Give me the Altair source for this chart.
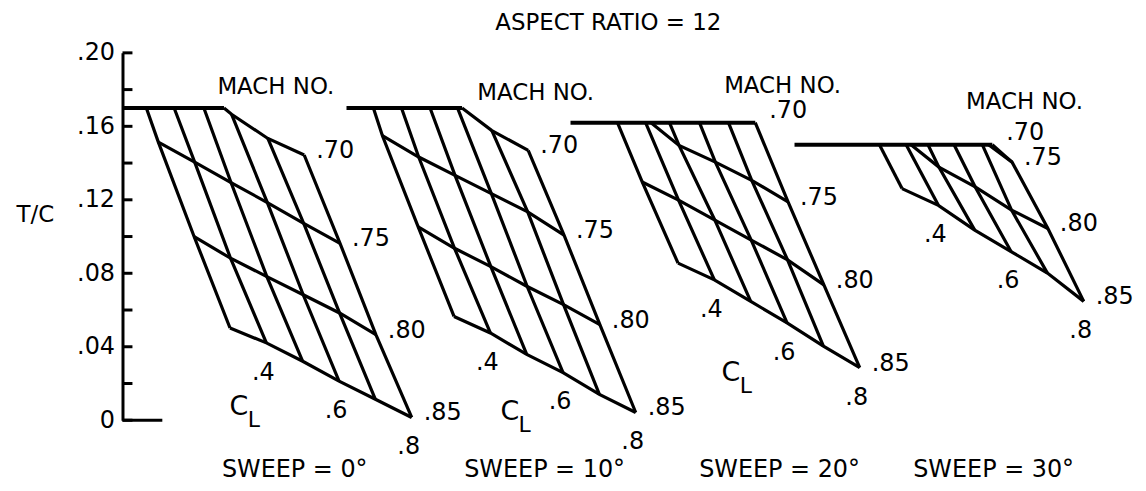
import altair as alt
import pandas as pd

# ---------------- data ----------------
MACH = [0.70, 0.75, 0.80, 0.85]
CL = [0.3, 0.4, 0.5, 0.6, 0.7, 0.8]
SWEEP = [0, 10, 20, 30]
TC_MAX = [0.170, 0.170, 0.162, 0.150]   # t/c cap drawn across the top of each carpet

# t/c at each (Mach row, CL column); parts above the cap are hidden by it
TC_SWEEP_0 = [
    [0.207, 0.192, 0.183, 0.1666, 0.1534, 0.1444],
    [0.1514, 0.1405, 0.1294, 0.1185, 0.1072, 0.0963],
    [0.0999, 0.0882, 0.0782, 0.0683, 0.0584, 0.0466],
    [0.0502, 0.0421, 0.0321, 0.0213, 0.0114, 0.0015],
]
TC_SWEEP_10 = [
    [0.215, 0.199, 0.186, 0.1727, 0.1577, 0.1469],
    [0.155, 0.1433, 0.1333, 0.1234, 0.1134, 0.1008],
    [0.1053, 0.0936, 0.0836, 0.0728, 0.0629, 0.052],
    [0.0565, 0.0475, 0.0358, 0.0259, 0.0141, 0.0042],
]
TC_SWEEP_20 = [
    [0.215, 0.205, 0.196, 0.189, 0.179, 0.166],
    [0.1765, 0.1657, 0.1496, 0.1405, 0.1306, 0.1189],
    [0.1297, 0.1198, 0.1089, 0.0981, 0.0873, 0.0737],
    [0.0855, 0.0764, 0.0647, 0.0530, 0.0403, 0.0286],
]
TC_SWEEP_30 = [
    [0.215, 0.205, 0.195, 0.183, 0.170, 0.155],
    [0.200, 0.190, 0.178, 0.166, 0.158, 0.1405],
    [0.164, 0.1537, 0.1378, 0.127, 0.1144, 0.1044],
    [0.1261, 0.117, 0.1035, 0.0918, 0.0801, 0.0647],
]
TC = [TC_SWEEP_0, TC_SWEEP_10, TC_SWEEP_20, TC_SWEEP_30]

Y_TICKS = [0.00, 0.02, 0.04, 0.06, 0.08, 0.10, 0.12, 0.14, 0.16, 0.18, 0.20]
Y_LABELS = [0.00, 0.04, 0.08, 0.12, 0.16, 0.20]
CL_LABELED = [0.4, 0.6, 0.8]
TITLE = "ASPECT RATIO = 12"

# ---------------- carpet construction (abscissa is arbitrary) ----------------
CARPET_SHIFT = [0, 225, 450, 675]
STEP_CL = 36.5
STEP_MACH = 36.0


def cx(k, i, j):
    return CARPET_SHIFT[k] + STEP_CL * i + STEP_MACH * j


def clip(points, cap):
    pieces, cur, prev = [], [], None
    eps = 1e-9
    for x, y in points:
        inside = y <= cap + eps
        if prev is None:
            if inside:
                cur = [(x, y)]
        else:
            px, py, pin = prev
            if pin and inside:
                cur.append((x, y))
            elif pin and not inside:
                t = (cap - py) / (y - py)
                cur.append((px + t * (x - px), cap))
                if len(cur) > 1:
                    pieces.append(cur)
                cur = []
            elif (not pin) and inside:
                t = (cap - py) / (y - py)
                cur = [(px + t * (x - px), cap), (x, y)]
        prev = (x, y, inside)
    if len(cur) > 1:
        pieces.append(cur)
    return pieces


grid_rows, cap_rows, mach_lab, mach_lab_cap, cl_lab = [], [], [], [], []
gid = 0
for k in range(len(SWEEP)):
    cap = TC_MAX[k]
    polylines = []
    for j in range(len(MACH)):
        polylines.append([(cx(k, i, j), TC[k][j][i]) for i in range(len(CL))])
    for i in range(len(CL)):
        polylines.append([(cx(k, i, j), TC[k][j][i]) for j in range(len(MACH))])
    cap_x = []
    for pl in polylines:
        for piece in clip(pl, cap):
            for o, (x, y) in enumerate(piece):
                grid_rows.append({"x": x, "tc": y, "g": f"g{gid}", "o": o})
                if abs(y - cap) < 1e-9:
                    cap_x.append(x)
            gid += 1
    cap_end = max(cap_x)
    cap_rows.append({"x": cx(k, 0, 0), "tc": cap, "g": f"c{k}", "o": 0})
    cap_rows.append({"x": cap_end, "tc": cap, "g": f"c{k}", "o": 1})
    for j, m in enumerate(MACH):
        v = TC[k][j][-1]
        if v <= cap:
            mach_lab.append({"x": cx(k, len(CL) - 1, j), "tc": v,
                             "label": f"{m:.2f}"[1:]})
        else:
            mach_lab_cap.append({"x": cap_end, "tc": cap,
                                 "label": f"{m:.2f}"[1:]})
    for c in CL_LABELED:
        i = CL.index(c)
        cl_lab.append({"x": cx(k, i, len(MACH) - 1),
                       "tc": TC[k][-1][i], "label": f"{c:.1f}"[1:]})

grid_df = pd.DataFrame(grid_rows)
cap_df = pd.DataFrame(cap_rows)
mach_df = pd.DataFrame(mach_lab)
mach_cap_df = pd.DataFrame(mach_lab_cap)
cl_df = pd.DataFrame(cl_lab)

# annotation anchors (carpet abscissa, t/c)
mach_title_df = pd.DataFrame({"x": [154, 415, 663, 906],
                              "tc": [0.1816, 0.1783, 0.1821, 0.1734],
                              "label": ["MACH NO."] * 4})
sweep_df = pd.DataFrame({"x": [173, 424, 660, 875],
                         "tc": [-0.027] * 4,
                         "label": [f"SWEEP = {s}°" for s in SWEEP]})
cl_title_df = pd.DataFrame({"x": [117, 389, 611],
                            "tc": [0.0070, 0.0043, 0.0255]})

# ---------------- chart ----------------
W, H = 1020, 369
FONT = "DejaVu Sans"

AXIS = alt.Axis(values=Y_LABELS,
                labelExpr="datum.value == 0 ? '0' : replace(format(datum.value, '.2f'), '0.', '.')",
                ticks=False, tickSize=0, grid=False,
                domainColor="black", domainWidth=3,
                labelFont=FONT, labelFontSize=24, labelColor="black", labelPadding=8,
                title="T/C", titleAngle=0, titleX=-88, titleY=162,
                titleAlign="center", titleBaseline="middle",
                titleFont=FONT, titleFontSize=23, titleFontWeight="normal",
                titleColor="black")

X = alt.X("x:Q", scale=alt.Scale(domain=[0, W], nice=False, zero=False), axis=None)
Y = alt.Y("tc:Q", scale=alt.Scale(domain=[0, 0.20], nice=False, zero=False), axis=AXIS)

grid = alt.Chart(grid_df).mark_line(color="black", strokeWidth=3.2).encode(
    x=X, y=Y, detail="g:N", order="o:Q")
capline = alt.Chart(cap_df).mark_line(color="black", strokeWidth=4).encode(
    x=X, y=Y, detail="g:N", order="o:Q")
ticks = alt.Chart(pd.DataFrame({"tc": Y_TICKS})).mark_rule(
    color="black", strokeWidth=3).encode(y=Y, x=alt.value(0), x2=alt.value(10))
stub = alt.Chart(pd.DataFrame({"tc": [0.0]})).mark_rule(
    color="black", strokeWidth=3).encode(y=Y, x=alt.value(0), x2=alt.value(40))

mach_txt = alt.Chart(mach_df).mark_text(
    align="left", baseline="middle", dx=12, dy=-4, font=FONT, fontSize=24,
    color="black").encode(x=X, y=Y, text="label:N")
mach_cap_txt = alt.Chart(mach_cap_df).mark_text(
    align="left", baseline="middle", dx=14, dy=-12, font=FONT, fontSize=24,
    color="black").encode(x=X, y=Y, text="label:N")
cl_txt = alt.Chart(cl_df).mark_text(
    align="center", baseline="middle", dx=-3, dy=30, font=FONT, fontSize=24,
    color="black").encode(x=X, y=Y, text="label:N")
mach_title = alt.Chart(mach_title_df).mark_text(
    align="center", baseline="middle", font=FONT, fontSize=23,
    color="black").encode(x=X, y=Y, text="label:N")
sweep_txt = alt.Chart(sweep_df).mark_text(
    align="center", baseline="middle", font=FONT, fontSize=24,
    color="black").encode(x=X, y=Y, text="label:N")
c_txt = alt.Chart(cl_title_df).mark_text(
    align="center", baseline="middle", font=FONT, fontSize=27, text="C",
    color="black").encode(x=X, y=Y)
l_txt = alt.Chart(cl_title_df).mark_text(
    align="center", baseline="middle", font=FONT, fontSize=22, text="L",
    dx=15, dy=13, color="black").encode(x=X, y=Y)
title = alt.Chart(pd.DataFrame({"t": [TITLE]})).mark_text(
    align="center", baseline="middle", font=FONT, fontSize=23,
    color="black").encode(x=alt.value(488), y=alt.value(-30), text="t:N")

chart = alt.layer(grid, capline, ticks, stub, mach_txt, mach_cap_txt, cl_txt,
                  mach_title, sweep_txt, c_txt, l_txt, title).properties(
    width=W, height=H,
    autosize=alt.AutoSizeParams(type="none"),
    padding={"left": 115, "top": 44, "right": 0, "bottom": 62},
    background="white",
).configure_view(stroke=None)

chart.save("out.html", embed_options={"renderer": "svg", "actions": False})
